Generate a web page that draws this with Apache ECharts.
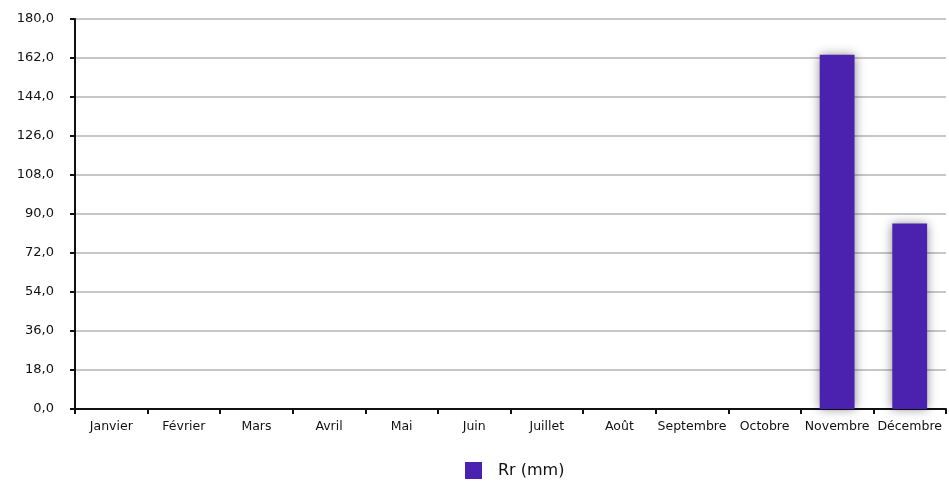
<!DOCTYPE html>
<html><head><meta charset="utf-8">
<script src="https://cdn.jsdelivr.net/npm/echarts@6/dist/echarts.min.js"></script>
<style>html,body{margin:0;padding:0;background:#fff}#c{width:949px;height:482px}</style>
</head><body><div id="c"></div>
<script>
const categories = ['Janvier','Février','Mars','Avril','Mai','Juin','Juillet','Août','Septembre','Octobre','Novembre','Décembre'];
const rrValues = [0,0,0,0,0,0,0,0,0,0,163.5,85.6];
const seriesName = 'Rr (mm)';
const yMin = 0, yMax = 180, yStep = 18;

const chart = echarts.init(document.getElementById('c'));
chart.setOption({
  animation: false,
  textStyle: {fontFamily: 'DejaVu Sans'},
  grid: {left: 75, right: 3, top: 19, bottom: 73, containLabel: false},
  legend: {
    top: 460, left: 460,
    itemWidth: 17, itemHeight: 17, itemGap: 10, padding: [2, 5, 2, 5],
    icon: 'rect',
    textStyle: {fontSize: 16, color: '#111', fontFamily: 'DejaVu Sans', padding: [0, 0, 0, 11]},
    data: [seriesName]
  },
  xAxis: {
    type: 'category', data: categories, boundaryGap: true,
    axisLine: {lineStyle: {color: '#111', width: 2}},
    axisTick: {show: true, length: 5, lineStyle: {color: '#111', width: 2}},
    axisLabel: {color: '#111', fontSize: 12.5, margin: 11, interval: 0}
  },
  yAxis: {
    type: 'value', min: yMin, max: yMax, interval: yStep,
    axisLine: {show: true, lineStyle: {color: '#111', width: 2}},
    axisTick: {show: true, length: 5, inside: false, lineStyle: {color: '#111', width: 2}},
    axisLabel: {color: '#111', fontSize: 13, margin: 21, formatter: v => v.toFixed(1).replace('.', ',')},
    splitLine: {show: true, lineStyle: {color: '#b4b4b4', width: 1.5}}
  },
  series: [{
    name: seriesName, type: 'bar', data: rrValues, barWidth: '48%',
    itemStyle: {color: '#4b21af', shadowBlur: 10, shadowColor: 'rgba(0,0,0,0.45)', shadowOffsetX: 0, shadowOffsetY: 0}
  }]
});
</script></body></html>
